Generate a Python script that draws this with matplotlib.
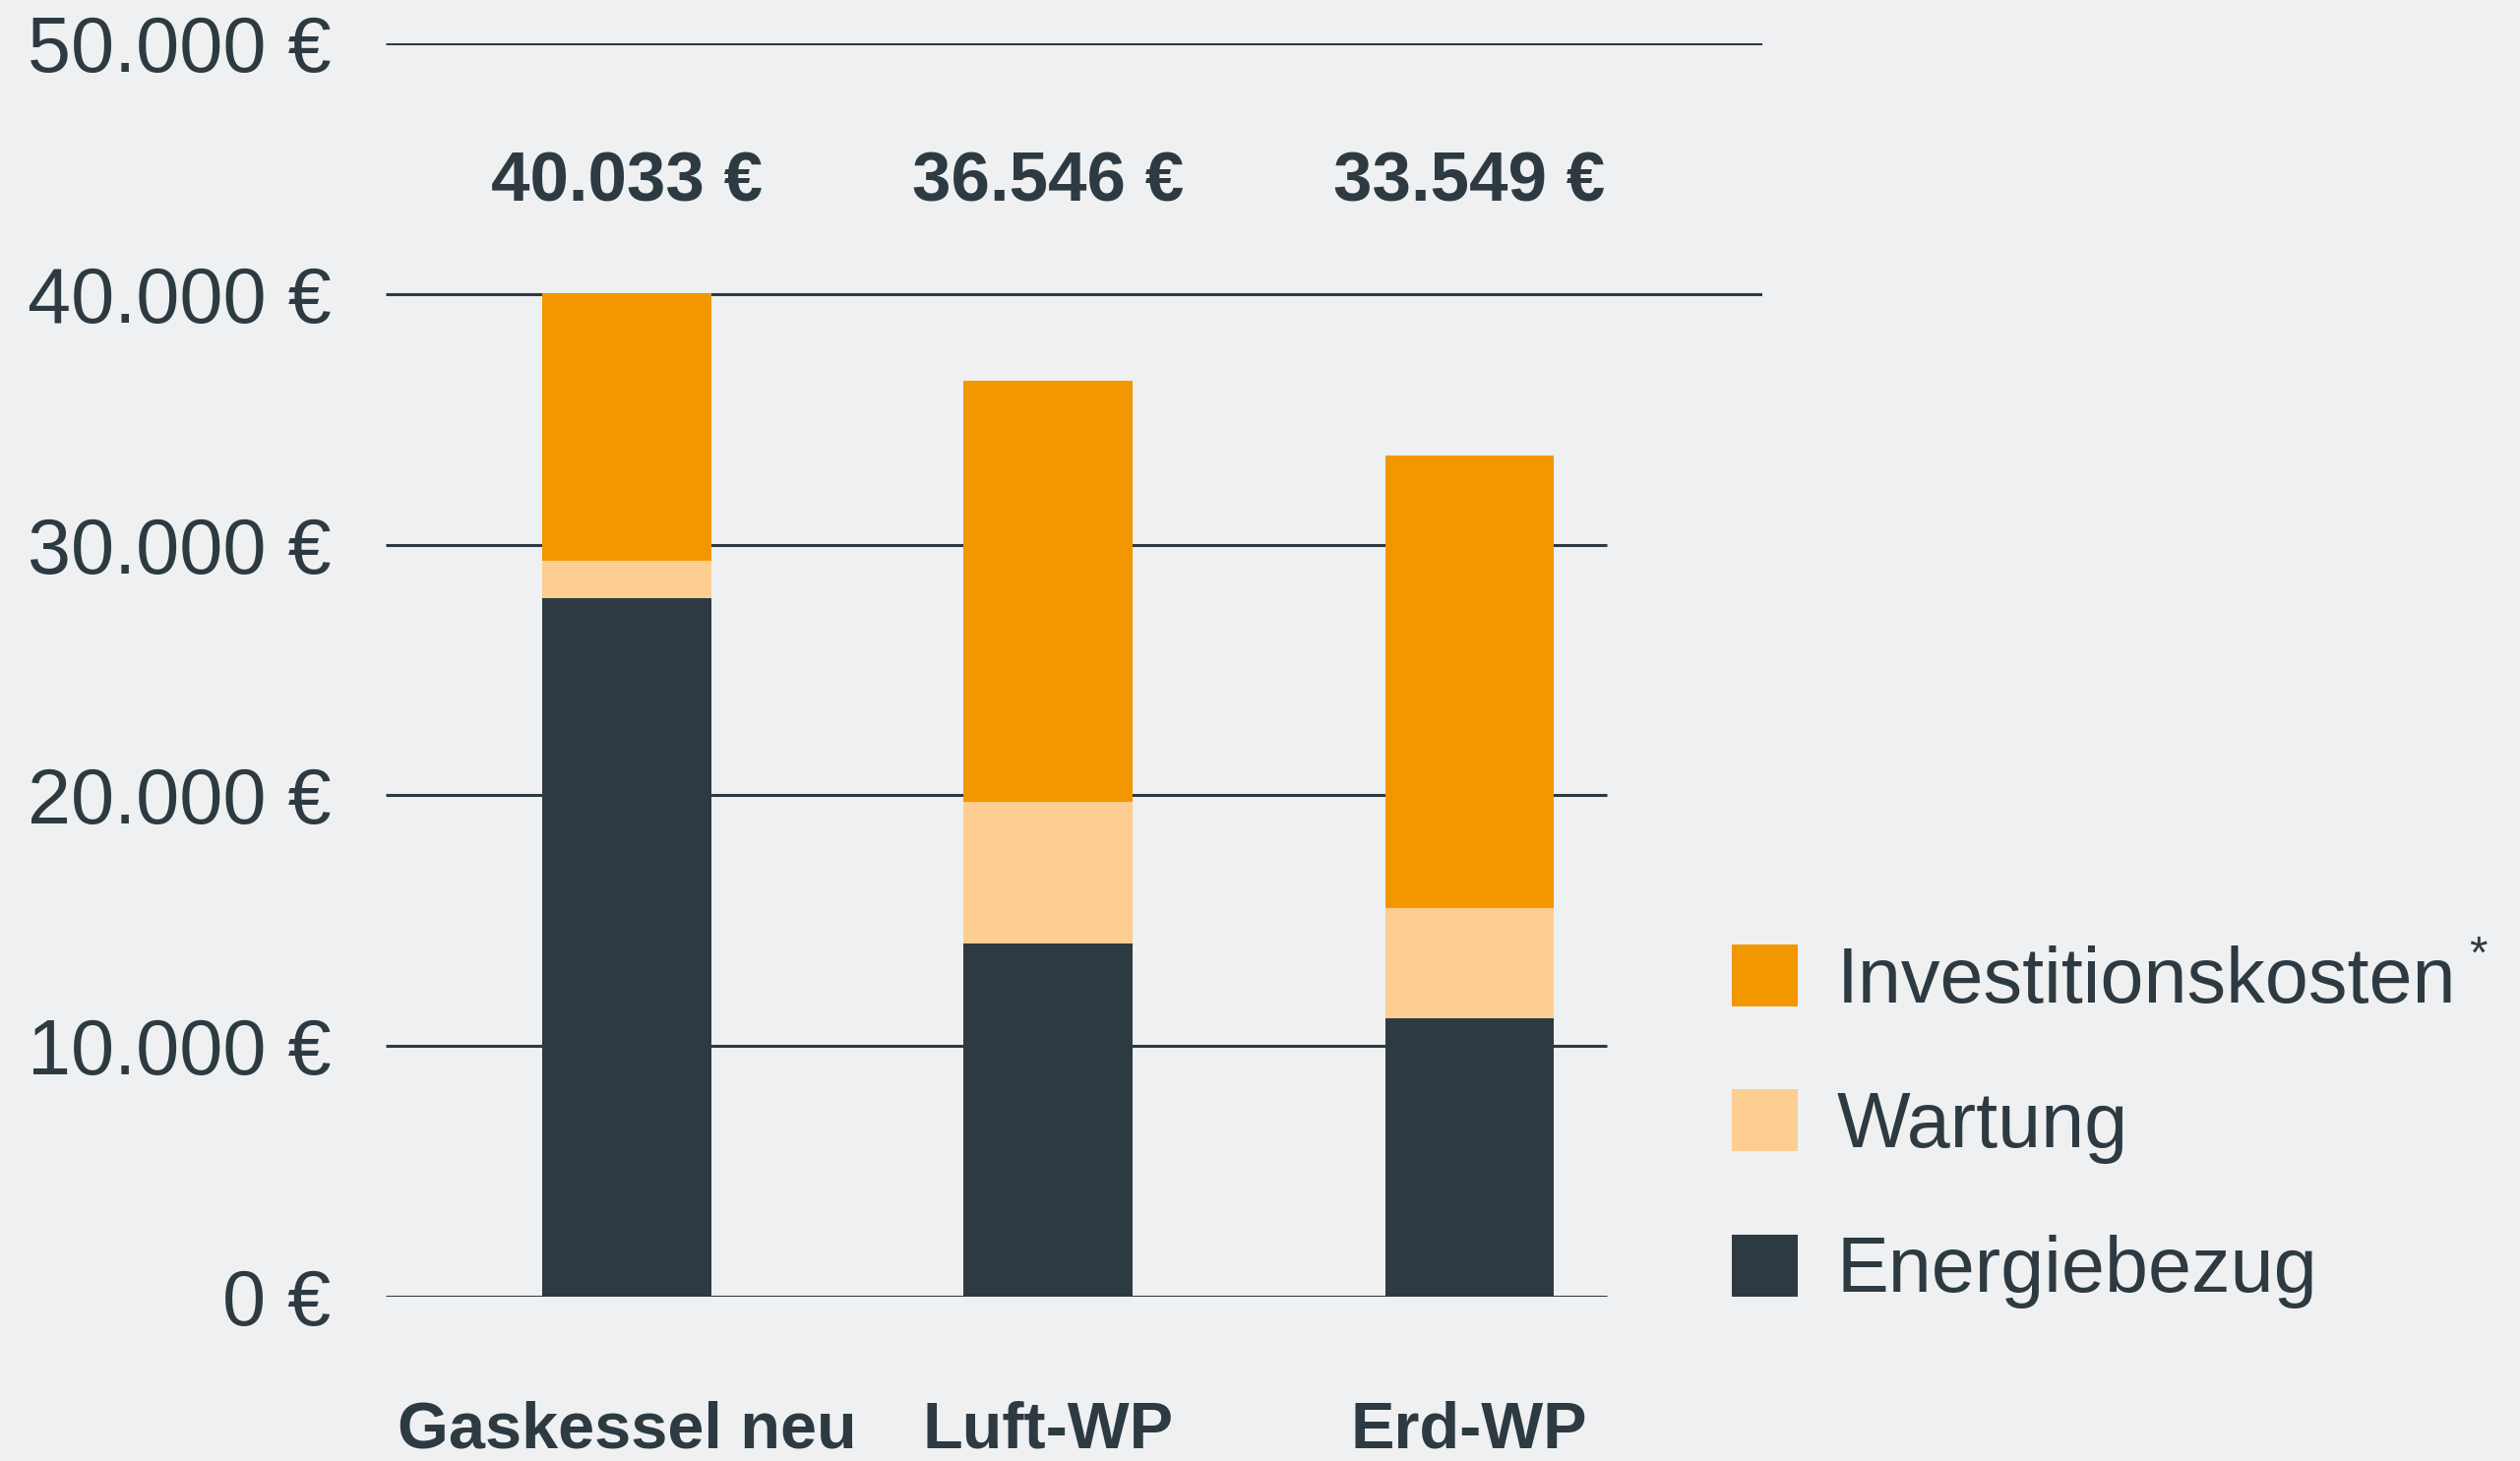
import matplotlib.pyplot as plt

# Werte in Euro
kategorien = ["Gaskessel neu", "Luft-WP", "Erd-WP"]
energiebezug = [27880, 14100, 11090]
wartung = [1470, 5640, 4420]
investition = [10683, 16806, 18039]
summen_text = ["40.033 €", "36.546 €", "33.549 €"]
y_ticks = [0, 10000, 20000, 30000, 40000, 50000]
y_tick_labels = ["0 €", "10.000 €", "20.000 €", "30.000 €", "40.000 €", "50.000 €"]

bg = "#EFF0F2"
dunkel = "#2D3A42"
orange = "#F39700"
hellorange = "#FDCD91"

plt.rcParams["font.family"] = ["Liberation Sans", "DejaVu Sans"]

fig = plt.figure(figsize=(25.61, 14.85), dpi=100, facecolor=bg)
ax = fig.add_axes([0.1531, 0.1125, 0.6994 - 0.1531, 0.9704 - 0.1125])
ax.set_facecolor(bg)

x = list(range(len(kategorien)))
breite = 0.40

# Gitterlinien: oben laenger (Legende liegt darunter)
for t in y_ticks:
    xmax = 2.696 if t >= 40000 else 2.327
    ax.hlines(t, -0.572, xmax, color=dunkel, lw=2.2, zorder=1)

b1 = ax.bar(x, energiebezug, breite, color=dunkel, label="Energiebezug", zorder=2)
unten = energiebezug
b2 = ax.bar(x, wartung, breite, bottom=unten, color=hellorange, label="Wartung", zorder=2)
unten = [a + b for a, b in zip(energiebezug, wartung)]
b3 = ax.bar(x, investition, breite, bottom=unten, color=orange,
            label="Investitionskosten", zorder=2)

for xi, txt in zip(x, summen_text):
    ax.text(xi, 43700, txt, ha="center", va="baseline", fontsize=51,
            fontweight="bold", color=dunkel)

ax.set_xlim(-0.572, 2.696)
ax.set_ylim(0, 50000)
ax.set_yticks(y_ticks)
ax.set_yticklabels(y_tick_labels, fontsize=57, color=dunkel)
ax.set_xticks([])
ax.tick_params(axis="y", length=0, pad=40)
for s in ax.spines.values():
    s.set_visible(False)

# Kategorien unten (teilweise abgeschnitten wie im Original)
for xi, kat in zip(x, kategorien):
    ax.text(xi, -0.1036 / (0.9704 - 0.1125), kat, transform=ax.get_xaxis_transform(),
            ha="center", va="baseline", fontsize=48, fontweight="bold", color=dunkel)

leg = fig.legend(handles=[b3, b2, b1], loc="upper left",
                 bbox_to_anchor=(0.6872, 0.3535), frameon=False, fontsize=57,
                 handlelength=0.85, handleheight=0.85, handletextpad=0.5,
                 labelspacing=0.9, borderpad=0, borderaxespad=0)
for t in leg.get_texts():
    t.set_color(dunkel)

fig.text(2518 / 2561, 1 - 972 / 1485, "*", fontsize=34, color=dunkel,
         ha="center", va="center")

fig.savefig("out.png", dpi=100, facecolor=bg)
plt.close()
print("Saved: out.png")
